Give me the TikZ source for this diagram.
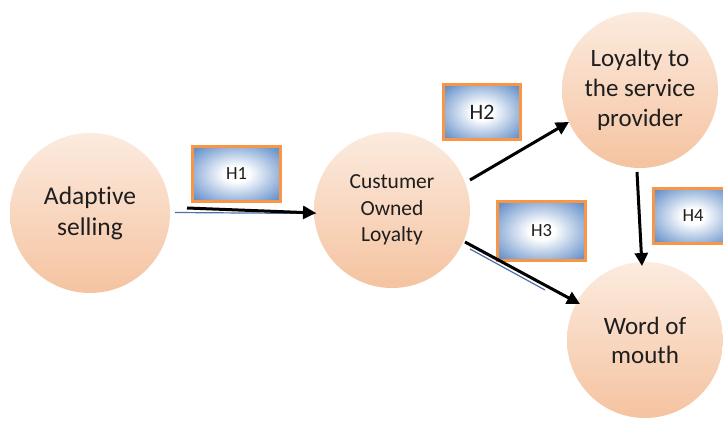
\documentclass[tikz,border=0pt]{standalone}
\usepackage{fontspec}
\setmainfont[Ligatures=NoCommon]{Carlito}
\usetikzlibrary{arrows.meta}
\definecolor{peachtop}{HTML}{FCEBDF}
\definecolor{peachbot}{HTML}{F5C3A0}
\definecolor{boxblue}{HTML}{5E8BC7}
\definecolor{boxedge}{HTML}{F79646}
\definecolor{txt}{HTML}{1E1E1E}
\definecolor{thinblue}{HTML}{4F6FA8}
\pgfdeclareradialshading{hypshade}{\pgfpoint{0bp}{0bp}}{color(0bp)=(white); color(7bp)=(white); color(34bp)=(boxblue); color(60bp)=(boxblue)}
\tikzset{
  construct/.style={circle, inner sep=0pt, minimum size=#1, top color=peachtop, bottom color=peachbot, draw=none, text=txt, align=center},
  hypbox/.style={rectangle, inner sep=0pt, minimum width=#1, draw=boxedge, line width=3pt, shading=hypshade, text=txt, font=\fontsize{18.5}{21}\selectfont},
  link/.style={line width=3pt, draw=black, -{Triangle[length=13pt,width=13pt]}},
  shadowline/.style={line width=1.2pt, draw=thinblue}
}
\begin{document}
\begin{tikzpicture}[x=1pt,y=-1pt]
\useasboundingbox[fill=white] (0,0) rectangle (723,421);
% constructs
\node[construct=160, font=\fontsize{25.5}{31}\selectfont] (as) at (90,213) {Adaptive\\selling};
\node[construct=156, font=\fontsize{21.5}{26.5}\selectfont] (col) at (392,210) {Custumer\\Owned\\Loyalty};
\node[construct=156, font=\fontsize{25}{30}\selectfont] (lsp) at (640,90) {Loyalty to\\the service\\provider};
\node[construct=156, font=\fontsize{25}{29}\selectfont] (wom) at (645,340) {Word of\\mouth};
% hypothesis boxes
\node[hypbox=88, minimum height=55] (h1) at (236.5,174) {H1};
\node[hypbox=77, minimum height=55, font=\fontsize{22}{24}\selectfont] (h2) at (482,112) {H2};
\node[hypbox=88, minimum height=59] (h3) at (541.5,231) {H3};
\node[hypbox=80, minimum height=55] (h4) at (693,216) {H4};
% connector endpoints
\coordinate (a1s) at (187,208); \coordinate (a1e) at (316,213);
\coordinate (b1s) at (175,212.5); \coordinate (b1e) at (316,213.5);
\coordinate (a2s) at (470,180); \coordinate (a2e) at (569,122);
\coordinate (a3s) at (465,242); \coordinate (a3e) at (580,304);
\coordinate (b3s) at (470,249); \coordinate (b3e) at (545,290);
\coordinate (a4s) at (637,172); \coordinate (a4e) at (642,266);
% thin blue lines
\draw[shadowline] (b1s) -- (b1e);
\draw[shadowline] (b3s) -- (b3e);
% arrows
\draw[link] (a1s) -- (a1e);
\draw[link] (a2s) -- (a2e);
\draw[link] (a3s) -- (a3e);
\draw[link] (a4s) -- (a4e);
\end{tikzpicture}
\end{document}
